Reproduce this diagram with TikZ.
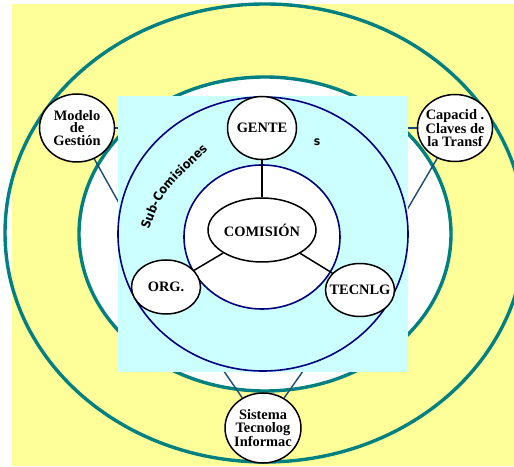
\documentclass[tikz,border=0pt]{standalone}
\usepackage{fontspec}
\setmainfont{Liberation Serif}
\newfontfamily\subsans{DejaVu Sans Condensed}
\usetikzlibrary{shapes.geometric,decorations.text}
\definecolor{paleyellow}{HTML}{FFFF99}
\definecolor{palecyan}{HTML}{CCFFFF}
\definecolor{ringteal}{HTML}{008080}
\definecolor{ringnavy}{HTML}{000080}
\definecolor{linkblue}{HTML}{1A4A78}
\pgfdeclarelayer{back}
\pgfdeclarelayer{links}
\pgfdeclarelayer{panel}
\pgfsetlayers{back,links,panel,main}

\begin{document}
\begin{tikzpicture}[x=1pt,y=1pt,
  bubble/.style={ellipse, draw=black, line width=1.5pt, fill=white, inner sep=0pt},
  lbl/.style={font=\bfseries\fontsize{14.4}{12.5}\selectfont, align=center, inner sep=0pt},
  link/.style={draw=linkblue, line width=1.4pt},
  spoke/.style={draw=black, line width=1.5pt},
  teal ring/.style={draw=ringteal, line width=3.4pt},
  navy ring/.style={draw=ringnavy, line width=1.6pt}]
\useasboundingbox (0,0) rectangle (514,466);
\clip (0,0) rectangle (514,466);

% background and the two teal rings
\begin{pgfonlayer}{back}
  \fill[paleyellow] (12,0) rectangle (514,462);
  \draw[teal ring] (265,233) ellipse [x radius=260, y radius=229];
  \draw[teal ring, fill=white] (265,232) ellipse [x radius=186, y radius=157];
\end{pgfonlayer}

% inner panel with the commission rings
\begin{pgfonlayer}{panel}
  \fill[palecyan] (118,94) rectangle (408,370);
  \draw[navy ring] (263,232) ellipse [x radius=145, y radius=137];
  \draw[navy ring, fill=white] (262,229) ellipse [x radius=78, y radius=72];
\end{pgfonlayer}

% commission and its sub-commissions
\node[bubble, minimum width=69, minimum height=63] (gente) at (262,338) {};
\node[lbl] at (gente) {GENTE};
\node[bubble, minimum width=108, minimum height=64] (com) at (262,236) {};
\node[lbl] at (com) {COMISIÓN};
\node[bubble, minimum width=69, minimum height=54] (org) at (166,179) {};
\node[lbl] at (org) {ORG.};
\node[bubble, minimum width=69, minimum height=53] (tec) at (360,176) {};
\node[lbl] at (tec) {TECNLG};

% outer topics
\node[bubble, minimum width=75, minimum height=68] (mod) at (77,338) {};
\node[lbl] at (mod) {Modelo\\de\\Gestión};
\node[bubble, minimum width=75, minimum height=67] (cap) at (455,338) {};
\node[lbl] at (cap) {Capacid .\\Claves de\\la Transf};
\node[bubble, minimum width=76, minimum height=70] (sis) at (263,38) {};
\node[lbl] at (sis) {Sistema\\Tecnolog\\Informac};

% spokes from the commission
\draw[spoke] (gente) -- (com);
\draw[spoke] (com) -- (org);
\draw[spoke] (com) -- (tec);

% links from the outer topics, running under the panel
\begin{pgfonlayer}{links}
  \draw[link] (mod) -- (cap);
  \draw[link] (mod) -- (org);
  \draw[link] (cap) -- (tec);
  \draw[link] (sis) -- (org);
  \draw[link] (sis) -- (tec);
\end{pgfonlayer}

% curved caption
\path[decorate, decoration={text along path, text align=center,
  text={|\subsans\bfseries\fontsize{12.5}{12.5}\selectfont|Sub-Comisiones}}]
  (148,234) .. controls (163,274) .. (210,318);
\node[font=\subsans\bfseries\fontsize{12}{12}\selectfont, inner sep=0pt] (stray) at (317,324) {s};
\end{tikzpicture}
\end{document}
